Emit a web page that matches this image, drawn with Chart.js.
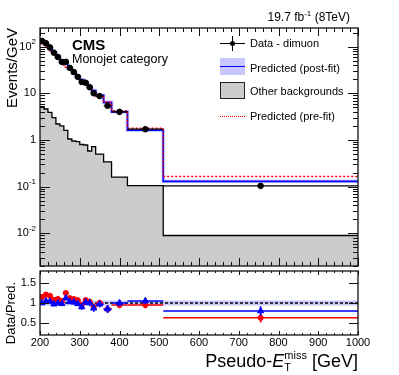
<!DOCTYPE html>
<html>
<head>
<meta charset="utf-8">
<script src="https://cdn.jsdelivr.net/npm/chart.js@4.4.1/dist/chart.umd.min.js"></script>
<style>
  html, body { margin: 0; padding: 0; background: #fff; }
  #wrap { position: relative; width: 399px; height: 375px; overflow: hidden; font-family: "Liberation Sans", Arial, sans-serif; color: #000; }
  canvas { position: absolute; left: 0; top: 0; }
  .txt { position: absolute; white-space: nowrap; line-height: 1; }
  .sym { position: absolute; }
</style>
</head>
<body>
<div id="wrap">
  <canvas id="mainChart" width="399" height="375"></canvas>
  <canvas id="ratioChart" width="399" height="375"></canvas>

  <div class="txt" style="right:49px; top:11px; font-size:12px;">19.7 fb<span style="font-size:8px; position:relative; top:-5px;">-1</span> (8TeV)</div>
  <div class="txt" style="left:72px; top:37px; font-size:15px; font-weight:bold;">CMS</div>
  <div class="txt" style="left:72px; top:53px; font-size:12.5px;">Monojet category</div>

  <!-- legend -->
  <div class="sym" style="left:220px; top:43px; width:25px; height:1.2px; background:#000;"></div>
  <div class="sym" style="left:232px; top:36px; width:1.2px; height:15px; background:#000;"></div>
  <div class="sym" style="left:230px; top:41px; width:5px; height:5px; border-radius:50%; background:#000;"></div>
  <div class="txt" style="left:250px; top:38px; font-size:11px;">Data - dimuon</div>

  <div class="sym" style="left:220px; top:58px; width:25px; height:17px; background:#c8c8ff;"></div>
  <div class="sym" style="left:220px; top:65.5px; width:25px; height:1.8px; background:#0000ff;"></div>
  <div class="txt" style="left:250px; top:63px; font-size:11px;">Predicted (post-fit)</div>

  <div class="sym" style="left:220px; top:82px; width:23px; height:15px; background:#cccccc; border:1.3px solid #222;"></div>
  <div class="txt" style="left:250px; top:86px; font-size:11px;">Other backgrounds</div>

  <div class="sym" style="left:220px; top:116px; width:25px; height:0; border-top:1.5px dotted #ff0000;"></div>
  <div class="txt" style="left:250px; top:111px; font-size:11px;">Predicted (pre-fit)</div>

  <!-- axis titles -->
  <div class="txt" style="left:4px; top:148px; width:120px; text-align:right; font-size:15px; transform-origin:0 0; transform:rotate(-90deg);">Events/GeV</div>
  <div class="txt" style="left:4px; top:402px; width:120px; text-align:right; font-size:13px; transform-origin:0 0; transform:rotate(-90deg);">Data/Pred.</div>
  <div class="txt" style="right:41px; top:350px; font-size:18px;">Pseudo-<i>E</i><span style="display:inline-block; vertical-align:-4px; font-size:11px; line-height:1.05; text-align:left;"><span style="display:block;">miss</span><span style="display:block;">T</span></span> [GeV]</div>
</div>

<script>
// bin edges in GeV (variable binning, last bin 510-1000)
const binEdges = [200, 210, 220, 230, 240, 250, 260, 270, 280, 290, 300, 310, 320, 330, 340, 360, 380, 420, 510, 1000];

// events / GeV
const dataVals = [132, 118, 96, 74, 60, 47, 47, 35, 28.5, 22.5, 17.5, 16.8, 13.5, 10, 8.7, 5.4, 4.0, 1.7, 0.104];
const dataErr  = [3.6, 3.4, 3.1, 2.7, 2.4, 2.2, 2.2, 1.9, 1.7, 1.5, 1.3, 1.3, 1.2, 1.0, 0.66, 0.52, 0.32, 0.14, 0.015];
const postFit  = [132, 112, 92, 76, 60, 48, 42, 34, 28, 23, 19.5, 16.5, 13.5, 11.5, 9.0, 6.4, 4.0, 1.62, 0.13];
const preFit   = [115, 97.5, 81, 68.5, 54.5, 45, 36, 31, 26, 21, 18.4, 15.7, 13.1, 11.1, 8.7, 6.4, 4.2, 1.79, 0.165];
const otherBkg = [5.2, 4.6, 3.9, 3.0, 2.2, 2.0, 1.6, 1.05, 0.95, 0.92, 0.8, 0.78, 0.58, 0.72, 0.5, 0.34, 0.16, 0.105, 0.009];

// ratio panel
const ratioPost = [1.0, 1.05, 1.04, 0.97, 1.0, 0.98, 1.12, 1.03, 1.02, 0.98, 0.9, 1.02, 1.0, 0.87, 0.97, 0.85, 1.0, 1.05, 0.8];
const ratioPre  = [1.15, 1.21, 1.18, 1.08, 1.1, 1.05, 1.25, 1.12, 1.1, 1.07, 0.95, 1.07, 1.03, 0.9, 1.0, 0.85, 0.95, 0.95, 0.63];
const ratioErr  = [0.03, 0.03, 0.035, 0.035, 0.04, 0.045, 0.045, 0.05, 0.055, 0.06, 0.07, 0.07, 0.08, 0.09, 0.08, 0.1, 0.08, 0.08, 0.12];

const xLabels = [200, 300, 400, 500, 600, 700, 800, 900, 1000];

// histogramme en escalier : un point par bord de bin
function stepPoints(vals) {
    let pts = vals.map((v, i) => ({x: binEdges[i], y: v}));
    pts.push({x: binEdges[binEdges.length - 1], y: vals[vals.length - 1]});
    return pts;
}
function centerPoints(vals) {
    return vals.map((v, i) => ({x: (binEdges[i] + binEdges[i + 1]) / 2, y: v}));
}

// barres d'erreur (x = largeur du bin, y = +- err)
const errorBars = {
    id: 'errorBars',
    afterDatasetDraw(chart, args) {
        const ds = chart.data.datasets[args.index];
        if (!ds.errors) return;
        const ctx = chart.ctx, x = chart.scales.x, y = chart.scales.y;
        ctx.save();
        ctx.strokeStyle = ds.borderColor;
        ctx.lineWidth = ds.errWidth || 1;
        ds.data.forEach((p, i) => {
            const px = x.getPixelForValue(p.x), py = y.getPixelForValue(p.y);
            const x0 = x.getPixelForValue(binEdges[i]), x1 = x.getPixelForValue(binEdges[i + 1]);
            const y0 = y.getPixelForValue(p.y - ds.errors[i]), y1 = y.getPixelForValue(p.y + ds.errors[i]);
            ctx.beginPath();
            ctx.moveTo(x0, py); ctx.lineTo(x1, py);
            ctx.moveTo(px, y0); ctx.lineTo(px, y1);
            ctx.stroke();
        });
        ctx.restore();
    }
};

// cadre façon ROOT : ticks vers l'intérieur sur les 4 côtés + labels
const frameTicks = {
    id: 'frameTicks',
    afterDraw(chart, args, o) {
        const ctx = chart.ctx, a = chart.chartArea, x = chart.scales.x, y = chart.scales.y;
        ctx.save();
        ctx.strokeStyle = '#111';
        ctx.lineWidth = 1;
        ctx.beginPath();
        for (let v = 200; v <= 1000; v += 20) {
            const px = Math.round(x.getPixelForValue(v)) + 0.5;
            const len = v % 100 === 0 ? o.xMaj : o.xMin;
            ctx.moveTo(px, a.bottom); ctx.lineTo(px, a.bottom - len);
            ctx.moveTo(px, a.top); ctx.lineTo(px, a.top + len);
        }
        o.yTicks.forEach(t => {
            const py = Math.round(y.getPixelForValue(t.v)) + 0.5;
            const len = t.major ? o.yMaj : o.yMin;
            ctx.moveTo(a.left, py); ctx.lineTo(a.left + len, py);
            ctx.moveTo(a.right, py); ctx.lineTo(a.right - len, py);
        });
        ctx.stroke();
        ctx.lineWidth = 1.3;
        ctx.strokeRect(a.left, a.top, a.right - a.left, a.bottom - a.top);

        ctx.fillStyle = '#000';
        ctx.textBaseline = 'middle';
        o.yLabels.forEach(l => {
            const py = y.getPixelForValue(l.v);
            let right = a.left - 4;
            if (l.exp) {
                ctx.font = '8px "Liberation Sans", Arial, sans-serif';
                ctx.textAlign = 'right';
                ctx.fillText(l.exp, right, py - 5);
                right -= ctx.measureText(l.exp).width;
            }
            ctx.font = '11px "Liberation Sans", Arial, sans-serif';
            ctx.textAlign = 'right';
            ctx.fillText(l.base, right, py);
        });
        if (o.xLabels) {
            ctx.font = '11px "Liberation Sans", Arial, sans-serif';
            ctx.textAlign = 'center';
            ctx.textBaseline = 'top';
            o.xLabels.forEach(v => ctx.fillText(String(v), x.getPixelForValue(v), a.bottom + 2));
        }
        ctx.restore();
    }
};

let logTicks = [];
for (let e = -3; e <= 2; e++) {
    for (let m = 1; m <= 9; m++) {
        const v = m * Math.pow(10, e);
        if (v >= 0.002 && v <= 250) logTicks.push({v: v, major: m === 1});
    }
}

const commonOpts = {
    responsive: false,
    animation: false,
    events: [],
    plugins: { legend: { display: false }, tooltip: { enabled: false } }
};

var ctxMain = document.getElementById('mainChart').getContext('2d');
var mainChart = new Chart(ctxMain, {
    type: 'line',
    data: {
        datasets: [
            {
                label: 'Data - dimuon',
                data: centerPoints(dataVals),
                showLine: false,
                pointRadius: 2.8,
                pointBackgroundColor: '#000',
                pointBorderColor: '#000',
                borderColor: '#000',
                errors: dataErr,
                errWidth: 1.2
            },
            {
                label: 'Predicted (pre-fit)',
                data: stepPoints(preFit),
                stepped: true,
                borderColor: '#ff0000',
                borderWidth: 1.5,
                borderDash: [2, 2],
                pointRadius: 0,
                fill: false
            },
            {
                label: 'Predicted (post-fit)',
                data: stepPoints(postFit),
                stepped: true,
                borderColor: '#0000ff',
                borderWidth: 1.6,
                pointRadius: 0,
                fill: false
            },
            {
                label: 'post-fit unc.',
                data: stepPoints(postFit),
                stepped: true,
                borderColor: '#c8c8ff',
                borderWidth: 3.5,
                pointRadius: 0,
                fill: false
            },
            {
                label: 'Other backgrounds',
                data: stepPoints(otherBkg),
                stepped: true,
                borderColor: '#000',
                borderWidth: 1.3,
                backgroundColor: '#cccccc',
                fill: 'start',
                pointRadius: 0
            }
        ]
    },
    options: Object.assign({}, commonOpts, {
        layout: { padding: { left: 40, right: 41, top: 28, bottom: 109 } },
        scales: {
            x: { type: 'linear', min: 200, max: 1000, display: false },
            y: { type: 'logarithmic', min: 0.002, max: 250, display: false }
        },
        plugins: Object.assign({}, commonOpts.plugins, {
            frameTicks: {
                xMaj: 8, xMin: 4, yMaj: 10, yMin: 5,
                yTicks: logTicks,
                yLabels: [
                    {v: 0.01, base: '10', exp: '-2'},
                    {v: 0.1, base: '10', exp: '-1'},
                    {v: 1, base: '1'},
                    {v: 10, base: '10'},
                    {v: 100, base: '10', exp: '2'}
                ]
            }
        })
    }),
    plugins: [errorBars, frameTicks]
});

var ctxRatio = document.getElementById('ratioChart').getContext('2d');
var ratioChart = new Chart(ctxRatio, {
    type: 'line',
    data: {
        datasets: [
            {
                label: 'Data/post-fit',
                data: centerPoints(ratioPost),
                showLine: false,
                pointStyle: 'triangle',
                pointRadius: 3.6,
                pointBackgroundColor: '#0000ff',
                pointBorderColor: '#0000ff',
                borderColor: '#0000ff',
                errors: ratioErr,
                errWidth: 1.6
            },
            {
                label: 'Data/pre-fit',
                data: centerPoints(ratioPre),
                showLine: false,
                pointRadius: 2.6,
                pointBackgroundColor: '#ff0000',
                pointBorderColor: '#ff0000',
                borderColor: '#ff0000',
                errors: ratioErr,
                errWidth: 1.6
            },
            {
                label: 'unity',
                data: [{x: 200, y: 1}, {x: 1000, y: 1}],
                borderColor: '#000',
                borderWidth: 1.3,
                borderDash: [3, 2],
                pointRadius: 0
            },
            {
                label: 'post-fit unc.',
                data: [{x: 200, y: 1}, {x: 1000, y: 1}],
                borderColor: '#c8c8ff',
                borderWidth: 5,
                pointRadius: 0
            }
        ]
    },
    options: Object.assign({}, commonOpts, {
        layout: { padding: { left: 40, right: 41, top: 271, bottom: 40 } },
        scales: {
            x: { type: 'linear', min: 200, max: 1000, display: false },
            y: { type: 'linear', min: 0.2, max: 1.8, display: false }
        },
        plugins: Object.assign({}, commonOpts.plugins, {
            frameTicks: {
                xMaj: 4, xMin: 2, yMaj: 9, yMin: 5,
                yTicks: [{v: 0.5, major: true}, {v: 1, major: true}, {v: 1.5, major: true}],
                yLabels: [
                    {v: 0.5, base: '0.5'},
                    {v: 1, base: '1'},
                    {v: 1.5, base: '1.5'}
                ],
                xLabels: xLabels
            }
        })
    }),
    plugins: [errorBars, frameTicks]
});
</script>
</body>
</html>
